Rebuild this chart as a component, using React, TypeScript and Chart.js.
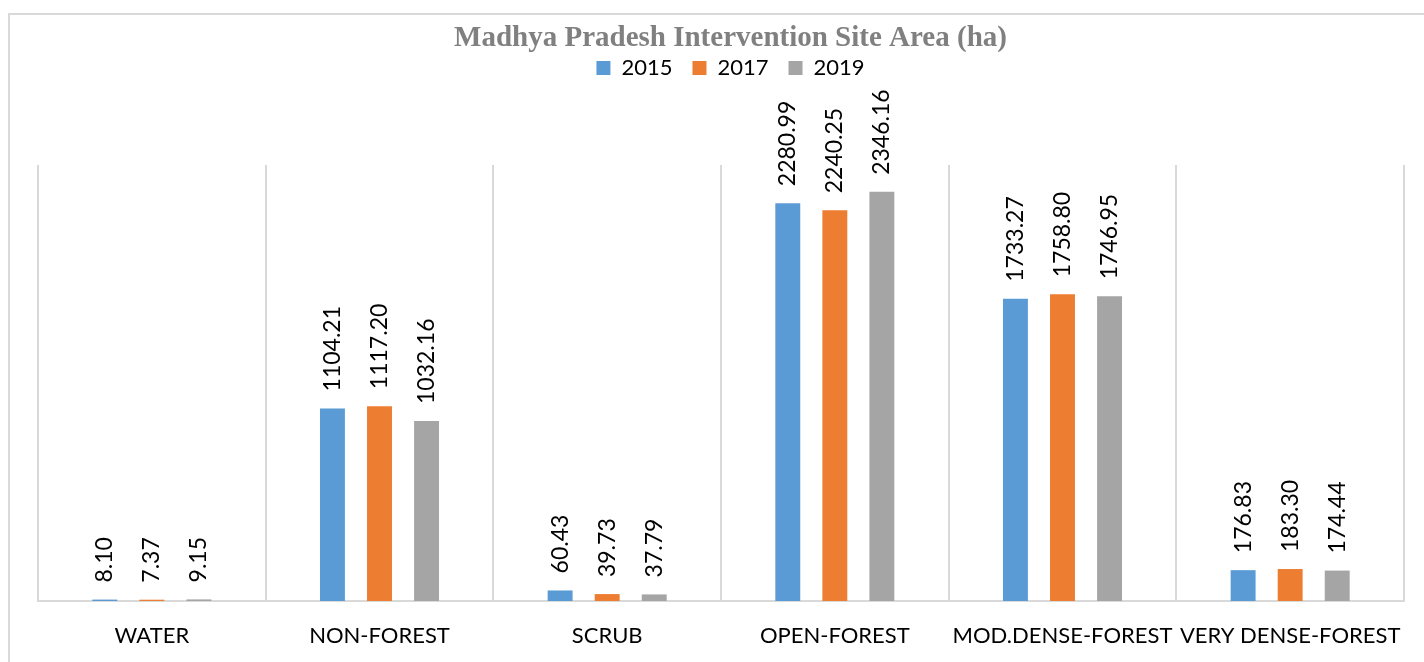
import React, { useEffect, useRef } from 'react';
import { Chart, registerables } from 'chart.js';

Chart.register(...registerables);

const titleText = 'Madhya Pradesh Intervention Site Area (ha)';
const categories = ['WATER', 'NON-FOREST', 'SCRUB', 'OPEN-FOREST', 'MOD.DENSE-FOREST', 'VERY DENSE-FOREST'];
const seriesLabels = ['2015', '2017', '2019'];
const values2015 = [8.10, 1104.21, 60.43, 2280.99, 1733.27, 176.83];
const values2017 = [7.37, 1117.20, 39.73, 2240.25, 1758.80, 183.30];
const values2019 = [9.15, 1032.16, 37.79, 2346.16, 1746.95, 174.44];
const seriesColors = ['#5B9BD5', '#ED7D31', '#A5A5A5'];
const yMin = 0;
const yMax = 2500;

const barLabels = {
  id: 'barLabels',
  afterDatasetsDraw(chart: any) {
    const ctx = chart.ctx;
    ctx.save();
    ctx.font = '23px Lato';
    ctx.fillStyle = '#000000';
    ctx.textAlign = 'left';
    ctx.textBaseline = 'middle';
    chart.data.datasets.forEach((ds: any, i: number) => {
      const meta = chart.getDatasetMeta(i);
      meta.data.forEach((bar: any, j: number) => {
        const v = ds.data[j] as number;
        ctx.save();
        ctx.translate(bar.x, bar.y - 17);
        ctx.rotate(-Math.PI / 2);
        ctx.fillText(v.toFixed(2), 0, 0);
        ctx.restore();
      });
    });
    ctx.restore();
  },
};

export default function App() {
  const canvasRef = useRef<HTMLCanvasElement | null>(null);

  useEffect(() => {
    document.body.style.margin = '0';
    const canvas = canvasRef.current;
    if (!canvas) return;
    const allValues = [values2015, values2017, values2019];
    const chart = new Chart(canvas, {
      type: 'bar',
      data: {
        labels: categories,
        datasets: seriesLabels.map((label, i) => ({
          label,
          data: allValues[i],
          backgroundColor: seriesColors[i],
          borderWidth: 0,
          categoryPercentage: 0.62,
          barPercentage: 0.53,
        })),
      },
      options: {
        animation: false,
        responsive: false,
        maintainAspectRatio: false,
        layout: { padding: { left: 38, right: 1, top: 0, bottom: 0 } },
        plugins: {
          title: {
            display: true,
            text: titleText,
            color: '#808080',
            font: { family: 'Liberation Serif', size: 29, weight: 'bold' },
            padding: { top: 21, bottom: -18.8 },
          },
          subtitle: {
            display: true,
            text: '',
            weight: 500,
            font: { size: 10 },
            padding: { top: 0, bottom: 64 },
          } as any,
          legend: {
            display: true,
            position: 'top',
            labels: {
              boxWidth: 14,
              boxHeight: 14,
              color: '#000000',
              font: { family: 'Lato', size: 22 },
              padding: 20,
            },
          },
          tooltip: { enabled: false },
        },
        scales: {
          x: {
            grid: { color: '#d9d9d9', lineWidth: 2, drawTicks: false, offset: true },
            border: { color: '#d9d9d9', width: 2 },
            ticks: {
              color: '#000000',
              font: { family: 'Lato', size: 22 },
              padding: 22,
              maxRotation: 0,
              autoSkip: false,
            },
            afterFit: (scale: any) => {
              scale.height = 61;
            },
          },
          y: {
            display: true,
            position: 'right',
            min: yMin,
            max: yMax,
            grid: { display: false },
            border: { display: false },
            ticks: { display: false },
            afterFit: (scale: any) => {
              scale.width = 18;
            },
          },
        },
      },
      plugins: [barLabels],
    });
    (document as any).fonts?.load?.('22px Lato').then(() => chart.update()).catch(() => {});
    return () => chart.destroy();
  }, []);

  return (
    <div style={{ position: 'relative', width: 1424, height: 662, overflow: 'hidden', background: '#ffffff' }}>
      <div
        style={{
          position: 'absolute',
          left: 8,
          top: 13,
          width: 1440,
          height: 720,
          border: '2px solid #d9d9d9',
          boxSizing: 'border-box',
        }}
      />
      <canvas ref={canvasRef} width={1424} height={662} style={{ position: 'absolute', left: 0, top: 0, display: 'block' }} />
    </div>
  );
}
